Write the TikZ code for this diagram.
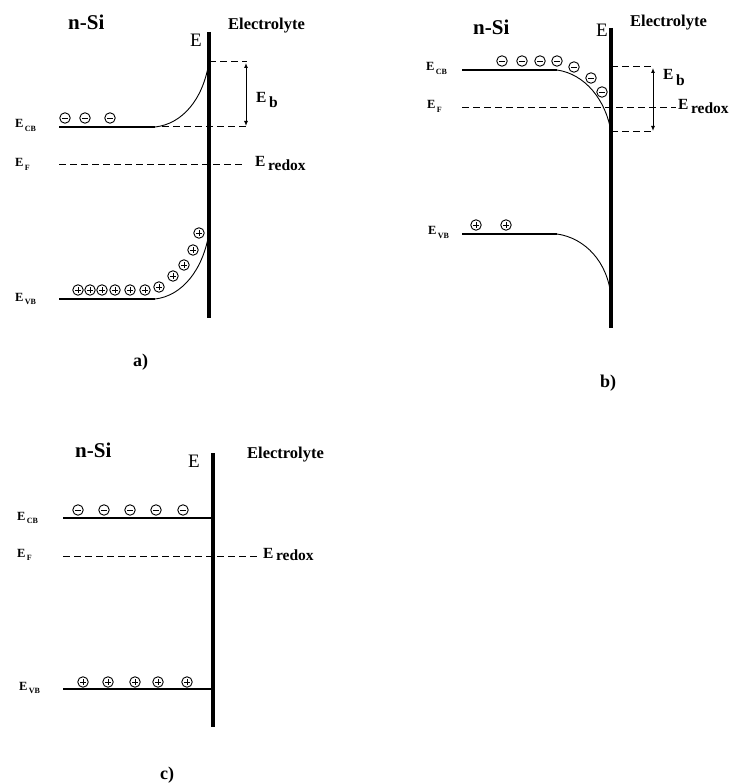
\documentclass[tikz,border=0pt]{standalone}
\usepackage{fontspec}
\setmainfont{Liberation Serif}
\usetikzlibrary{arrows.meta}
\newcommand{\fsz}[1]{\fontsize{#1}{#1}\selectfont}
\newcommand{\lvllab}[2]{E\raisebox{-0.55ex}{\fsz{8}\,#2}}
\begin{document}
\begin{tikzpicture}[x=1pt,y=-1pt,
  bandline/.style={line width=1.3pt},
  bandcurve/.style={line width=0.9pt},
  iface/.style={line width=3.2pt},
  lvl/.style={line width=1pt,dash pattern=on 7pt off 4pt},
  gaparrow/.style={line width=1pt,{Latex[length=5pt,width=4pt]}-{Latex[length=5pt,width=4pt]}},
  charge/.style={circle,draw,line width=0.9pt,minimum size=10.5pt,inner sep=0pt},
  negcharge/.style={charge,path picture={\draw[line width=0.9pt] ([xshift=2.3pt]path picture bounding box.west) -- ([xshift=-2.3pt]path picture bounding box.east);}},
  poscharge/.style={charge,path picture={\draw[line width=0.9pt] ([xshift=2.3pt]path picture bounding box.west) -- ([xshift=-2.3pt]path picture bounding box.east) ([yshift=-2.3pt]path picture bounding box.north) -- ([yshift=2.3pt]path picture bounding box.south);}},
  sidelab/.style={anchor=base west,inner sep=0pt,font=\fsz{12.5}\bfseries},
  rlab/.style={anchor=base west,inner sep=0pt,font=\fsz{15.5}\bfseries},
  ttl/.style={anchor=base west,inner sep=0pt,font=\fsz{21}\bfseries},
  elab/.style={anchor=base west,inner sep=0pt,font=\fsz{16.5}\bfseries},
  ebig/.style={anchor=base west,inner sep=0pt,font=\fsz{19}},
  capt/.style={anchor=base west,inner sep=0pt,font=\fsz{18}\bfseries}]
\useasboundingbox (0,0) rectangle (730,783);
\fill[white] (0,0) rectangle (730,783);

% ================= panel a =================
\coordinate (aT) at (209,32); \coordinate (aB) at (209,318);
\draw[iface] (aT) -- (aB);
\coordinate (aCB0) at (59,127); \coordinate (aCB1) at (155,127); \coordinate (aCB2) at (209,62);
\draw[bandline] (aCB0) -- (aCB1);
\draw[bandcurve] (aCB1) .. controls (182,124) and (203,100) .. (aCB2);
\coordinate (aVB0) at (59,299); \coordinate (aVB1) at (155,299); \coordinate (aVB2) at (209,233);
\draw[bandline] (aVB0) -- (aVB1);
\draw[bandcurve] (aVB1) .. controls (182,296) and (203,270) .. (aVB2);
\coordinate (aD1) at (247,62); \coordinate (aD2) at (162,127); \coordinate (aD3) at (247,127);
\draw[lvl] (aCB2) -- (aD1);
\draw[lvl] (aD2) -- (aD3);
\coordinate (aF0) at (59,165); \coordinate (aF1) at (242,165);
\draw[lvl] (aF0) -- (aF1);
\coordinate (aA1) at (246,63); \coordinate (aA2) at (246,126);
\draw[gaparrow] (aA1) -- (aA2);
\node[ttl] (aNSi) at (68,30) {n-Si};
\node[elab] (aEl) at (228,30) {Electrolyte};
\node[ebig] (aE) at (190,47) {E};
\node[rlab] (aEb) at (256,103) {E\raisebox{-0.65ex}{\,b}};
\node[rlab] (aEr) at (255,167) {E\raisebox{-0.5ex}{\,redox}};
\node[sidelab] (aLcb) at (15,128) {\lvllab{}{CB}};
\node[sidelab] (aLf) at (15,167) {\lvllab{}{F}};
\node[sidelab] (aLvb) at (15,301) {\lvllab{}{VB}};
\node[capt] (acap) at (133,366) {a)};
\foreach \x [count=\i] in {65,85,110} \node[negcharge] (an\i) at (\x,118) {};
\foreach \x/\y [count=\i] in {78/290,90/290,102/290,115/290,130/290,145/290,159/287,173/276,184/265,193/250,199/233}
  \node[poscharge] (ap\i) at (\x,\y) {};

% ================= panel b =================
\coordinate (bT) at (611,28); \coordinate (bB) at (611,328);
\draw[iface] (bT) -- (bB);
\coordinate (bCB0) at (462,70); \coordinate (bCB1) at (557,70); \coordinate (bCB2) at (611,132);
\draw[bandline] (bCB0) -- (bCB1);
\draw[bandcurve] (bCB1) .. controls (585,74) and (606,100) .. (bCB2);
\coordinate (bVB0) at (462,234); \coordinate (bVB1) at (557,234); \coordinate (bVB2) at (611,297);
\draw[bandline] (bVB0) -- (bVB1);
\draw[bandcurve] (bVB1) .. controls (585,238) and (608,262) .. (bVB2);
\coordinate (bD0) at (611,67); \coordinate (bD1) at (654,67);
\coordinate (bD2) at (611,132); \coordinate (bD3) at (654,132);
\draw[lvl] (bD0) -- (bD1);
\draw[lvl] (bD2) -- (bD3);
\coordinate (bF0) at (462,108); \coordinate (bF1) at (676,108);
\draw[lvl] (bF0) -- (bF1);
\coordinate (bA1) at (653,68); \coordinate (bA2) at (653,131);
\draw[gaparrow] (bA1) -- (bA2);
\node[ttl] (bNSi) at (473,35) {n-Si};
\node[elab] (bEl) at (630,27) {Electrolyte};
\node[ebig] (bE) at (596,37) {E};
\node[rlab] (bEb) at (663,80) {E\raisebox{-0.8ex}{\,b}};
\node[rlab] (bEr) at (678,110) {E\raisebox{-0.5ex}{\,redox}};
\node[sidelab] (bLcb) at (426,71) {\lvllab{}{CB}};
\node[sidelab] (bLf) at (427,109) {\lvllab{}{F}};
\node[sidelab] (bLvb) at (428,235) {\lvllab{}{VB}};
\node[capt] (bcap) at (600,387) {b)};
\foreach \x/\y [count=\i] in {502/61,522/61,540/61,557/61,574/67,591/78,602/92}
  \node[negcharge] (bn\i) at (\x,\y) {};
\foreach \x [count=\i] in {476,506} \node[poscharge] (bp\i) at (\x,225) {};

% ================= panel c =================
\coordinate (cT) at (213,453); \coordinate (cB) at (213,727);
\draw[iface] (cT) -- (cB);
\coordinate (cCB0) at (63,518); \coordinate (cCB1) at (213,518);
\draw[bandline] (cCB0) -- (cCB1);
\coordinate (cVB0) at (63,689); \coordinate (cVB1) at (213,689);
\draw[bandline] (cVB0) -- (cVB1);
\coordinate (cF0) at (63,556); \coordinate (cF1) at (258,556);
\draw[lvl] (cF0) -- (cF1);
\node[ttl] (cNSi) at (75,457) {n-Si};
\node[elab] (cEl) at (247,458) {Electrolyte};
\node[ebig] (cE) at (188,467) {E};
\node[rlab] (cEr) at (263,558) {E\raisebox{-0.3ex}{\,redox}};
\node[sidelab] (cLcb) at (17,520) {\lvllab{}{CB}};
\node[sidelab] (cLf) at (17,557) {\lvllab{}{F}};
\node[sidelab] (cLvb) at (19,690) {\lvllab{}{VB}};
\node[capt] (ccap) at (160,779) {c)};
\foreach \x [count=\i] in {78,104,130,156,183} \node[negcharge] (cn\i) at (\x,510) {};
\foreach \x [count=\i] in {83,108,135,158,187} \node[poscharge] (cp\i) at (\x,682) {};
\end{tikzpicture}
\end{document}
